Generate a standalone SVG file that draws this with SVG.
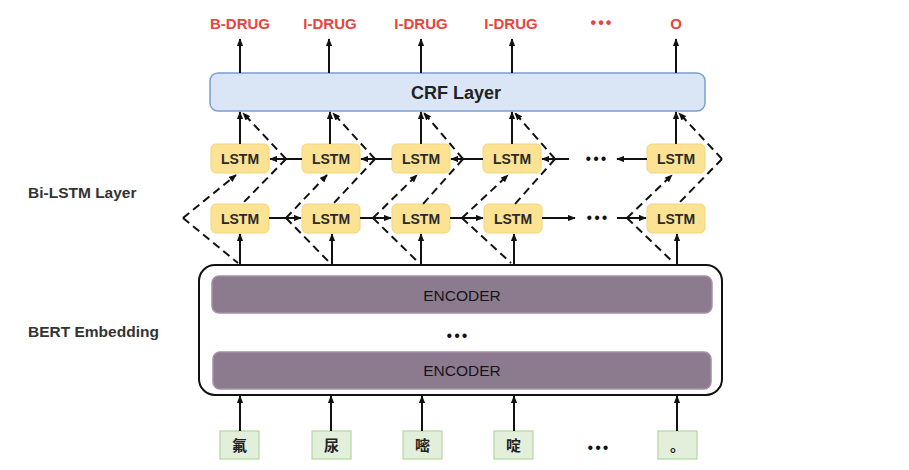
<svg xmlns="http://www.w3.org/2000/svg" width="909" height="470" viewBox="0 0 909 470">
<defs>
<marker id="ah" viewBox="0 0 10 8" refX="9" refY="4" markerWidth="8" markerHeight="6.4" markerUnits="userSpaceOnUse" orient="auto"><path d="M0,0 L10,4 L0,8 z" fill="#111"/></marker>
<style>
.lbl{font-family:"Liberation Sans",Arial,sans-serif;font-weight:bold;font-size:15px;fill:#e8453c;text-anchor:middle}
.side{font-family:"Liberation Sans",Arial,sans-serif;font-weight:bold;font-size:15.5px;fill:#333}
.crf{fill:#dae5f5;stroke:#7b9fd4;stroke-width:1.5}
.crft{font-family:"Liberation Sans",Arial,sans-serif;font-weight:bold;font-size:18px;fill:#222;text-anchor:middle}
.lstm{fill:#fce394;stroke:#f3d57c;stroke-width:1}
.lstmt{font-family:"Liberation Sans",Arial,sans-serif;font-weight:bold;font-size:14px;fill:#2a2a2a;text-anchor:middle}
.outer{fill:#fff;stroke:#111;stroke-width:2}
.enc{fill:#8c7a8e;stroke:#a58fa8;stroke-width:1.5}
.enct{font-family:"Liberation Sans",Arial,sans-serif;font-size:15.5px;fill:#161616;text-anchor:middle}
.tok{fill:#e2efda;stroke:#b5d5a0;stroke-width:1.2}
.tokt{font-family:"Noto Sans CJK SC","Liberation Sans",sans-serif;font-size:15px;font-weight:bold;fill:#222;text-anchor:middle}
.dots{font-family:"Liberation Sans",Arial,sans-serif;font-size:16px;fill:#111;text-anchor:middle;letter-spacing:2px}
.ar{stroke:#111;stroke-width:2;fill:none;marker-end:url(#ah)}
.ds{stroke:#111;stroke-width:2;fill:none;stroke-dasharray:8 5}
.dsa{stroke:#111;stroke-width:2;fill:none;stroke-dasharray:8 5;marker-end:url(#ah)}
</style>
</defs>
<rect width="909" height="470" fill="#fff"/>

<g id="labels">
<text class="lbl" x="240" y="29">B-DRUG</text>
<text class="lbl" x="330" y="29">I-DRUG</text>
<text class="lbl" x="421" y="29">I-DRUG</text>
<text class="lbl" x="511" y="29">I-DRUG</text>
<text class="lbl" x="602" y="28" style="font-size:16px;letter-spacing:2px">•••</text>
<text class="lbl" x="676" y="29">O</text>
</g>

<g id="side-labels">
<text class="side" x="28" y="198">Bi-LSTM Layer</text>
<text class="side" x="28" y="337">BERT Embedding</text>
</g>

<g id="crf-layer">
<rect class="crf" x="210" y="73" width="495" height="38" rx="8"/>
<text class="crft" x="456" y="98.5">CRF Layer</text>
</g>

<g id="bert">
<rect class="outer" x="199" y="265" width="523" height="130" rx="16"/>
<g id="encoder-1"><rect class="enc" x="212" y="276" width="500" height="37" rx="7"/><text class="enct" x="462" y="300.5">ENCODER</text></g>
<text class="dots" x="458" y="341">•••</text>
<g id="encoder-2"><rect class="enc" x="213" y="352" width="498" height="37" rx="7"/><text class="enct" x="462" y="376">ENCODER</text></g>
</g>

<g id="lstm-backward">
<g id="lstm-b1"><rect class="lstm" x="211" y="144" width="58" height="29" rx="5"/><text class="lstmt" x="240" y="163.5">LSTM</text></g>
<g id="lstm-b2"><rect class="lstm" x="302" y="144" width="58" height="29" rx="5"/><text class="lstmt" x="331" y="163.5">LSTM</text></g>
<g id="lstm-b3"><rect class="lstm" x="392" y="144" width="58" height="29" rx="5"/><text class="lstmt" x="421" y="163.5">LSTM</text></g>
<g id="lstm-b4"><rect class="lstm" x="483" y="144" width="58" height="29" rx="5"/><text class="lstmt" x="512" y="163.5">LSTM</text></g>
<g id="lstm-b5"><rect class="lstm" x="647" y="144" width="58" height="29" rx="5"/><text class="lstmt" x="676" y="163.5">LSTM</text></g>
<text class="dots" x="597" y="164">•••</text>
</g>

<g id="lstm-forward">
<g id="lstm-f1"><rect class="lstm" x="211" y="204" width="58" height="29" rx="5"/><text class="lstmt" x="240" y="223.5">LSTM</text></g>
<g id="lstm-f2"><rect class="lstm" x="302" y="204" width="58" height="29" rx="5"/><text class="lstmt" x="331" y="223.5">LSTM</text></g>
<g id="lstm-f3"><rect class="lstm" x="392" y="204" width="58" height="29" rx="5"/><text class="lstmt" x="421" y="223.5">LSTM</text></g>
<g id="lstm-f4"><rect class="lstm" x="484" y="204" width="58" height="29" rx="5"/><text class="lstmt" x="513" y="223.5">LSTM</text></g>
<g id="lstm-f5"><rect class="lstm" x="647" y="204" width="58" height="29" rx="5"/><text class="lstmt" x="676" y="223.5">LSTM</text></g>
<text class="dots" x="598" y="223">•••</text>
</g>

<g id="tokens">
<g id="tok-1"><rect class="tok" x="220" y="431" width="39" height="28"/><text class="tokt" x="239.5" y="450.5">氟</text></g>
<g id="tok-2"><rect class="tok" x="312" y="431" width="39" height="28"/><text class="tokt" x="331.5" y="450.5">尿</text></g>
<g id="tok-3"><rect class="tok" x="403" y="431" width="39" height="28"/><text class="tokt" x="422.5" y="450.5">嘧</text></g>
<g id="tok-4"><rect class="tok" x="494" y="431" width="39" height="28"/><text class="tokt" x="513.5" y="450.5">啶</text></g>
<g id="tok-5"><rect class="tok" x="658" y="431" width="39" height="28"/><text class="tokt" x="677.5" y="450.5">。</text></g>
<text class="dots" x="599" y="453">•••</text>
</g>

<g id="connectors">
<line class="ar" x1="240" y1="73" x2="240" y2="39"/>
<line class="ar" x1="329" y1="73" x2="329" y2="39"/>
<line class="ar" x1="421" y1="73" x2="421" y2="39"/>
<line class="ar" x1="512" y1="73" x2="512" y2="39"/>
<line class="ar" x1="676" y1="73" x2="676" y2="39"/>
<line class="ar" x1="240" y1="144" x2="240" y2="112"/>
<line class="ar" x1="330" y1="144" x2="330" y2="112"/>
<line class="ar" x1="421" y1="144" x2="421" y2="112"/>
<line class="ar" x1="512" y1="144" x2="512" y2="112"/>
<line class="ar" x1="676" y1="144" x2="676" y2="112"/>
<line class="ar" x1="240" y1="265" x2="240" y2="234"/>
<line class="ar" x1="332" y1="265" x2="332" y2="234"/>
<line class="ar" x1="421" y1="265" x2="421" y2="234"/>
<line class="ar" x1="514" y1="265" x2="514" y2="234"/>
<line class="ar" x1="677" y1="265" x2="677" y2="234"/>
<line class="ar" x1="240" y1="431" x2="240" y2="396"/>
<line class="ar" x1="331" y1="431" x2="331" y2="396"/>
<line class="ar" x1="422" y1="431" x2="422" y2="396"/>
<line class="ar" x1="514" y1="431" x2="514" y2="396"/>
<line class="ar" x1="677" y1="431" x2="677" y2="396"/>
<line class="ar" x1="302" y1="159" x2="270" y2="159"/>
<line class="ar" x1="392" y1="159" x2="361" y2="159"/>
<line class="ar" x1="483" y1="159" x2="451" y2="159"/>
<line class="ar" x1="569" y1="159" x2="542" y2="159"/>
<line class="ar" x1="647" y1="159" x2="617" y2="159"/>
<line class="ar" x1="269" y1="218" x2="301" y2="218"/>
<line class="ar" x1="360" y1="218" x2="391" y2="218"/>
<line class="ar" x1="450" y1="218" x2="483" y2="218"/>
<line class="ar" x1="542" y1="218" x2="575" y2="218"/>
<line class="ar" x1="617" y1="218" x2="646" y2="218"/>
<path class="ds" d="M183,218 L238,263"/><path class="dsa" d="M183,218 L236,175"/>
<path class="ds" d="M286,218 L330,263"/><path class="dsa" d="M286,218 L327,175"/>
<path class="ds" d="M373,218 L419,263"/><path class="dsa" d="M373,218 L417,175"/>
<path class="ds" d="M462,218 L511,263"/><path class="dsa" d="M462,218 L508,175"/>
<path class="ds" d="M627,218 L674,263"/><path class="dsa" d="M627,218 L672,175"/>
<path class="ds" d="M286,159 L242,204"/><path class="dsa" d="M286,159 L243,113"/>
<path class="ds" d="M375,159 L333,204"/><path class="dsa" d="M375,159 L333,113"/>
<path class="ds" d="M463,159 L423,204"/><path class="dsa" d="M463,159 L424,113"/>
<path class="ds" d="M555,159 L515,204"/><path class="dsa" d="M555,159 L515,113"/>
<path class="ds" d="M722,159 L678,204"/><path class="dsa" d="M722,159 L679,113"/>
</g>
</svg>
